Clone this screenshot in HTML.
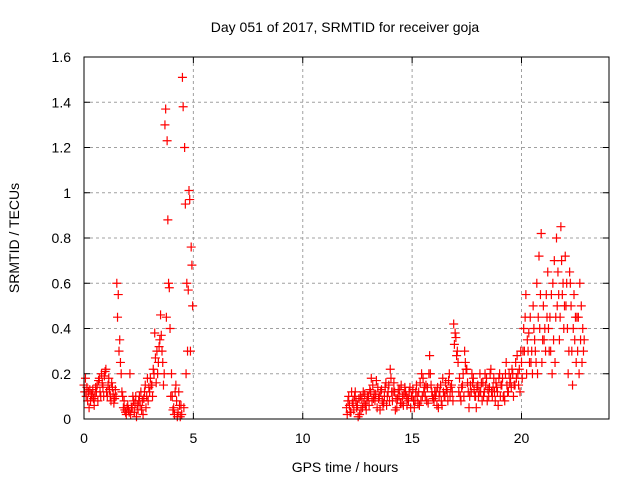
<!DOCTYPE html>
<html><head><meta charset="utf-8"><style>
body{margin:0;background:#fff}
svg text{font-family:"Liberation Sans",sans-serif;font-size:14px;fill:#000}
</style></head><body>
<svg id="chart" width="640" height="480">
<text x="345" y="32" text-anchor="middle">Day 051 of 2017, SRMTID for receiver goja</text>
<text x="345" y="472" text-anchor="middle">GPS time / hours</text>
<text transform="translate(19,238) rotate(-90)" text-anchor="middle">SRMTID / TECUs</text>
<g id="grid"></g><g id="ticks"></g><g id="marks"></g>
<rect x="84" y="57" width="525" height="362" fill="none" stroke="#000" stroke-width="1"/>
</svg>
<script>
const xTicks=[0,5,10,15,20];
const yTicks=[0,0.2,0.4,0.6,0.8,1,1.2,1.4,1.6];
const yTickLabels=["0","0.2","0.4","0.6","0.8","1","1.2","1.4","1.6"];
const timesA=[0,0.1,0.2,0.3,0.4,0.5,0.6,0.7,0.8,0.9,1,1.1,1.2,1.3,1.4,1.5,1.6,1.7,1.8,1.9,2,2.1,2.2,2.3,2.4,2.5,2.6,2.7,2.8,2.9,3,3.1,3.2,3.3,3.4,3.5,3.6,3.7,3.8,3.9,4,4.1,4.2,4.3,4.4,4.5,4.6,4.7,4.8,4.9];
const valsA1=[0.15,0.1,0.12,0.08,0.13,0.1,0.15,0.18,0.2,0.1,0.22,0.15,0.1,0.14,0.09,0.6,0.3,0.2,0.05,0.03,0.06,0.2,0.05,0.03,0.01,0.08,0.12,0.02,0.15,0.18,0.12,0.15,0.2,0.16,0.25,0.46,0.25,1.3,1.23,0.58,0.2,0.05,0.15,0.03,0.01,1.51,1.2,0.6,1.01,0.76];
const valsA2=[0.12,0.14,0.05,0.11,0.09,0.14,0.08,0.12,0.16,0.19,0.12,0.18,0.08,0.11,0.13,0.45,0.35,0.12,0.08,0.02,0.04,0.02,0.1,0.07,0.06,0.1,0.04,0.09,0.05,0.08,0.18,0.1,0.38,0.3,0.32,0.37,0.15,1.37,0.88,0.4,0.1,0.02,0.08,0.12,0.06,1.38,0.95,0.3,0.97,0.68];
const valsA3=[0.18,0.08,0.13,0.1,0.06,0.12,0.17,0.1,0.14,0.21,0.1,0.13,0.16,0.07,0.1,0.55,0.25,0.1,0.04,0.05,0.03,0.05,0.08,0.1,0.04,0.06,0.08,0.12,0.1,0.14,0.15,0.22,0.27,0.2,0.35,0.3,0.2,0.45,0.6,0.1,0.04,0.12,0.01,0.06,0.02,0.05,0.2,0.57,0.3,0.5];
const timesB=[12,12.1,12.2,12.3,12.4,12.5,12.6,12.7,12.8,12.9,13,13.1,13.2,13.3,13.4,13.5,13.6,13.7,13.8,13.9,14,14.1,14.2,14.3,14.4,14.5,14.6,14.7,14.8,14.9,15,15.1,15.2,15.3,15.4,15.5,15.6,15.7,15.8,15.9,16,16.1,16.2,16.3,16.4,16.5,16.6,16.7,16.8,16.9,17,17.1,17.2,17.3,17.4,17.5,17.6,17.7,17.8,17.9,18,18.1,18.2,18.3,18.4,18.5,18.6,18.7,18.8,18.9,19,19.1,19.2,19.3,19.4,19.5,19.6,19.7,19.8,19.9,20,20.1,20.2,20.3,20.4,20.5,20.6,20.7,20.8,20.9,21,21.1,21.2,21.3,21.4,21.5,21.6,21.7,21.8,21.9,22,22.1,22.2,22.3,22.4,22.5,22.6,22.7,22.8];
const valsB1=[0.05,0.1,0.03,0.08,0.12,0.06,0.02,0.09,0.07,0.04,0.1,0.12,0.15,0.08,0.05,0.1,0.13,0.07,0.16,0.12,0.22,0.08,0.12,0.05,0.1,0.15,0.06,0.12,0.09,0.14,0.1,0.05,0.15,0.12,0.08,0.18,0.1,0.14,0.28,0.12,0.08,0.12,0.05,0.15,0.18,0.1,0.12,0.2,0.15,0.42,0.36,0.25,0.1,0.15,0.3,0.22,0.05,0.12,0.18,0.1,0.15,0.2,0.08,0.12,0.18,0.1,0.22,0.14,0.08,0.12,0.2,0.15,0.1,0.25,0.12,0.18,0.2,0.15,0.28,0.22,0.25,0.4,0.55,0.3,0.45,0.2,0.35,0.6,0.72,0.82,0.5,0.3,0.65,0.45,0.2,0.7,0.8,0.55,0.85,0.6,0.72,0.4,0.65,0.3,0.55,0.25,0.45,0.35,0.4];
const valsB2=[0.02,0.06,0.12,0.04,0.08,0.01,0.1,0.05,0.11,0.08,0.06,0.18,0.09,0.11,0.14,0.04,0.08,0.1,0.06,0.15,0.18,0.12,0.04,0.09,0.13,0.07,0.11,0.1,0.08,0.05,0.13,0.08,0.1,0.06,0.2,0.12,0.15,0.07,0.2,0.1,0.12,0.06,0.1,0.08,0.12,0.16,0.08,0.1,0.12,0.33,0.28,0.12,0.08,0.2,0.25,0.16,0.1,0.2,0.13,0.05,0.1,0.12,0.16,0.2,0.08,0.14,0.12,0.18,0.16,0.06,0.1,0.18,0.08,0.15,0.2,0.14,0.1,0.25,0.2,0.12,0.18,0.3,0.2,0.38,0.25,0.5,0.3,0.2,0.4,0.25,0.35,0.55,0.4,0.3,0.6,0.25,0.5,0.35,0.7,0.4,0.5,0.2,0.6,0.15,0.35,0.45,0.2,0.5,0.3];
const valsB3=[0.08,0.03,0.07,0.1,0.05,0.09,0.04,0.12,0.06,0.1,0.13,0.08,0.11,0.17,0.09,0.12,0.06,0.14,0.1,0.08,0.12,0.16,0.09,0.13,0.07,0.1,0.14,0.06,0.12,0.1,0.08,0.12,0.07,0.16,0.1,0.14,0.08,0.2,0.15,0.09,0.1,0.14,0.12,0.06,0.1,0.13,0.17,0.14,0.08,0.38,0.3,0.18,0.14,0.1,0.22,0.12,0.15,0.16,0.1,0.14,0.12,0.16,0.1,0.15,0.13,0.2,0.1,0.12,0.14,0.18,0.15,0.1,0.2,0.12,0.16,0.22,0.15,0.18,0.15,0.3,0.3,0.45,0.35,0.25,0.3,0.4,0.25,0.45,0.55,0.35,0.4,0.45,0.3,0.55,0.35,0.45,0.65,0.45,0.55,0.5,0.6,0.3,0.5,0.4,0.45,0.3,0.6,0.25,0.35];
const NS="http://www.w3.org/2000/svg";
function x(v){return 84+v*(525/24);}
function y(v){return 419-v*(362/1.6);}
function mk(tag,attrs,parent){const e=document.createElementNS(NS,tag);for(const k in attrs)e.setAttribute(k,attrs[k]);parent.appendChild(e);return e;}
const grid=document.getElementById('grid'),ticks=document.getElementById('ticks'),marks=document.getElementById('marks');
xTicks.forEach(t=>{
  if(t>0){const g=mk('line',{x1:x(t),x2:x(t),y1:57,y2:419,stroke:'#a0a0a0','stroke-dasharray':'3,3'},grid);
  
  }
  const l=mk('text',{x:x(t),y:443,'text-anchor':'middle'},ticks);l.textContent=t;
  
  
  mk('line',{x1:x(t),x2:x(t),y1:419,y2:413,stroke:'#000'},ticks);
  mk('line',{x1:x(t),x2:x(t),y1:57,y2:63,stroke:'#000'},ticks);
});
yTicks.forEach((t,i)=>{
  if(t>0&&t<1.6){const g=mk('line',{x1:84,x2:609,y1:y(t),y2:y(t),stroke:'#a0a0a0','stroke-dasharray':'3,3'},grid);
  
  }
  const l=mk('text',{x:71,y:y(t)+5,'text-anchor':'end'},ticks);l.textContent=yTickLabels[i];
  
  
  mk('line',{x1:84,x2:90,y1:y(t),y2:y(t),stroke:'#000'},ticks);
  mk('line',{x1:609,x2:603,y1:y(t),y2:y(t),stroke:'#000'},ticks);
});
function plus(t,v){
  const cx=x(t),cy=y(v);
  const p=mk('path',{d:`M${cx-4.5},${cy}h9M${cx},${cy-4.5}v9`,stroke:'#f00','stroke-width':1.2,fill:'none'},marks);
  
  
}
timesA.forEach((t,i)=>{plus(t,valsA1[i]);plus(t+0.033,valsA2[i]);plus(t+0.066,valsA3[i]);});
timesB.forEach((t,i)=>{plus(t,valsB1[i]);plus(t+0.033,valsB2[i]);plus(t+0.066,valsB3[i]);});
</script>
</body></html>
